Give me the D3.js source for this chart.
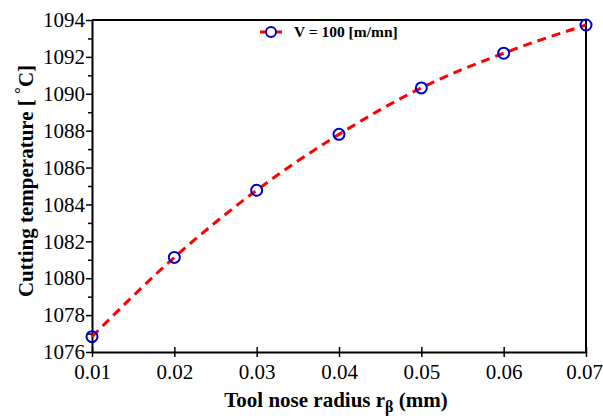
<!DOCTYPE html>
<html>
<head>
<meta charset="utf-8">
<script src="https://cdn.jsdelivr.net/npm/d3@7"></script>
<style>
    body { margin: 0; background: #fff; }
    svg text { font-family: "Liberation Serif", "Times New Roman", serif; }
</style>
</head>
<body>
<script>
// Cutting temperature vs tool nose radius, V = 100 m/mn

var radius = [0.01, 0.02, 0.03, 0.04, 0.05, 0.06, 0.07];
var temperature = [1076.83, 1081.13, 1084.77, 1087.8, 1090.32, 1092.2, 1093.73];
var xTicks = [0.01, 0.02, 0.03, 0.04, 0.05, 0.06, 0.07];
var yTicks = [1076, 1078, 1080, 1082, 1084, 1086, 1088, 1090, 1092, 1094];
var yMinor = [1077, 1079, 1081, 1083, 1085, 1087, 1089, 1091, 1093];

var margin = {top: 20, right: 17, bottom: 64, left: 92},
    width = 603 - margin.left - margin.right,
    height = 416 - margin.top - margin.bottom;

var svg = d3.select("body").append("svg")
    .attr("width", 603)
    .attr("height", 416)
    .append("g")
    .attr("transform", "translate(" + margin.left + "," + margin.top + ")");

var xScale = d3.scaleLinear().domain([0.01, 0.07]).range([0, width]);
var yScale = d3.scaleLinear().domain([1076, 1094]).range([height, 0]);

// frame (top and right)
svg.append("path")
    .attr("d", "M0,0H" + width + "V" + height)
    .attr("fill", "none")
    .attr("stroke", "#000")
    .attr("stroke-width", 2);

// x axis, ticks cross the line
var xAxis = d3.axisBottom(xScale)
    .tickValues(xTicks)
    .tickFormat(d3.format(".2f"))
    .tickSizeInner(5)
    .tickSizeOuter(0)
    .tickPadding(7);

var gx = svg.append("g")
    .attr("transform", "translate(0," + height + ")")
    .call(xAxis);
gx.select(".domain").attr("stroke-width", 2);
gx.selectAll(".tick line")
    .attr("y1", -5)
    .attr("stroke-width", 1.5);
gx.selectAll(".tick text")
    .style("font-size", "21px")
    .attr("fill", "#000")
    // keep the last label inside the window
    .attr("dx", function (d, i) { return i === xTicks.length - 1 ? -2 : 0; });

// y axis with minor ticks
var yAxis = d3.axisLeft(yScale)
    .tickValues(yTicks)
    .tickFormat(d3.format("d"))
    .tickSizeInner(6)
    .tickSizeOuter(0)
    .tickPadding(1);

svg.append("g")
    .call(d3.axisLeft(yScale).tickValues(yMinor).tickSize(4)
        .tickFormat(""))
    .call(function (g) { g.select(".domain").remove(); })
    .selectAll("line").attr("stroke-width", 1.5);

var gy = svg.append("g").call(yAxis);
gy.select(".domain").attr("stroke-width", 2);
gy.selectAll(".tick line").attr("stroke-width", 1.5);
gy.selectAll(".tick text")
    .style("font-size", "21px")
    .attr("fill", "#000");

// curve
var line = d3.line()
    .x(function (d, i) { return xScale(radius[i]); })
    .y(function (d) { return yScale(d); })
    .curve(d3.curveMonotoneX);

svg.append("path")
    .datum(temperature)
    .attr("d", line)
    .attr("fill", "none")
    .attr("stroke", "#ff0000")
    .attr("stroke-width", 3)
    .attr("stroke-dasharray", "9,6");

svg.selectAll("circle.pt")
    .data(temperature)
    .enter()
    .append("circle")
    .attr("class", "pt")
    .attr("cx", function (d, i) { return xScale(radius[i]); })
    .attr("cy", function (d) { return yScale(d); })
    .attr("r", 5.5)
    .attr("fill", "none")
    .attr("stroke", "#0000cc")
    .attr("stroke-width", 2);

// legend
var lg = svg.append("g").attr("transform", "translate(168,12)");
lg.append("line")
    .attr("x1", 0).attr("x2", 22)
    .attr("stroke", "#ff0000")
    .attr("stroke-width", 3);
lg.append("circle")
    .attr("cx", 11).attr("r", 5)
    .attr("fill", "#fff")
    .attr("stroke", "#0000cc")
    .attr("stroke-width", 2);
lg.append("text")
    .attr("x", 34).attr("y", 5)
    .style("font-size", "15.5px")
    .attr("font-weight", "bold")
    .text("V = 100 [m/mn]");

// axis titles
var xt = svg.append("text")
    .attr("x", width / 2 - 3)
    .attr("y", height + 55)
    .attr("text-anchor", "middle")
    .style("font-size", "21px")
    .attr("font-weight", "bold");
xt.append("tspan").text("Tool nose radius r");
xt.append("tspan").attr("dy", 5).style("font-size", "16px").text("β");
xt.append("tspan").attr("dy", -5).text(" (mm)");

var yt = svg.append("text")
    .attr("transform", "rotate(-90)")
    .attr("x", -(181 - margin.top))
    .attr("y", -margin.left + 33)
    .attr("text-anchor", "middle")
    .style("font-size", "21px")
    .attr("font-weight", "bold");
yt.append("tspan").text("Cutting temperature [ ");
yt.append("tspan").attr("dy", -7).style("font-size", "17px").text("°");
yt.append("tspan").attr("dy", 7).text("C]");
</script>
</body>
</html>
